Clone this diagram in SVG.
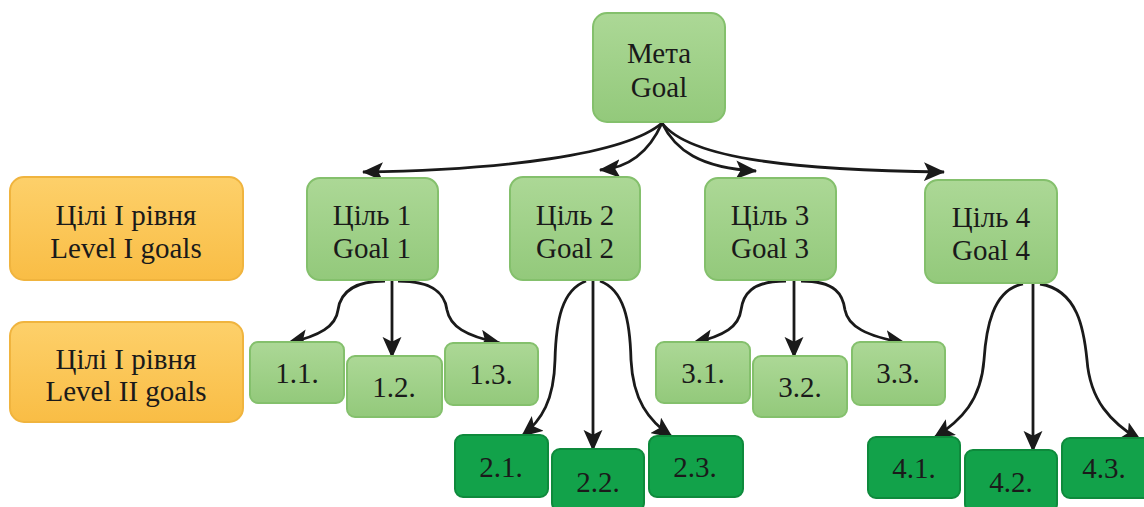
<svg xmlns="http://www.w3.org/2000/svg" width="1144" height="507" viewBox="0 0 1144 507">
<style>
.lg{fill:url(#glg);stroke:#84c06c;stroke-width:2}
.dg{fill:#12a24a;stroke:#0e8a3c;stroke-width:2}
.or{fill:url(#gor);stroke:#f0b43e;stroke-width:2}
text{font-family:'Liberation Serif','DejaVu Serif',serif;font-size:29px;fill:#1a1a1a;text-anchor:middle}
.c{fill:none;stroke:#1a1a1a;stroke-width:2.8;marker-end:url(#ah)}
</style>
<defs>
<linearGradient id="glg" x1="0" y1="0" x2="0" y2="1"><stop offset="0" stop-color="#acd896"/><stop offset="1" stop-color="#93c97b"/></linearGradient>
<linearGradient id="gor" x1="0" y1="0" x2="0" y2="1"><stop offset="0" stop-color="#fdd06a"/><stop offset="1" stop-color="#f9bd45"/></linearGradient>
<marker id="ah" markerWidth="7.6" markerHeight="6.8" refX="8.5" refY="4" orient="auto" viewBox="0 0 9 8"><path d="M0,0 L9,4 L0,8 L2,4 Z" fill="#1a1a1a"/></marker>
</defs>
<g id="connectors">
<path class="c" d="M662,123 C625,155 500,170 363,172"/>
<path class="c" d="M662,123 C650,150 630,168 600,170"/>
<path class="c" d="M662,123 C675,150 700,168 756,171"/>
<path class="c" d="M662,123 C690,160 800,170 944,172"/>
<path class="c" d="M385,281 C350,281 340,295 338,310 C336,326 320,336 288,343"/>
<path class="c" d="M392,281 L392,357"/>
<path class="c" d="M398,281 C435,281 445,295 447,310 C450,326 465,336 500,343"/>
<path class="c" d="M586,281 C562,290 556,320 555,360 C554,400 542,420 522,436"/>
<path class="c" d="M593,281 L593,450"/>
<path class="c" d="M600,281 C624,290 630,320 631,360 C633,400 648,420 672,437"/>
<path class="c" d="M786,281 C751,281 743,295 741,310 C739,326 725,336 693,343"/>
<path class="c" d="M794,281 L794,357"/>
<path class="c" d="M801,281 C836,281 843,295 845,310 C848,326 865,336 905,343"/>
<path class="c" d="M1023,284 C992,290 986,330 984,360 C981,400 962,420 934,438"/>
<path class="c" d="M1033,284 L1033,451"/>
<path class="c" d="M1040,284 C1078,290 1084,330 1087,360 C1090,400 1110,422 1141,441"/>
</g>
<g id="goal"><rect class="lg" x="593" y="13" width="132" height="109" rx="14"/><text x="659" y="63">Мета</text><text x="659" y="97">Goal</text></g>
<g id="label1"><rect class="or" x="10" y="177" width="233" height="103" rx="14"/><text x="126" y="225">Цілі I рівня</text><text x="126" y="258">Level I goals</text></g>
<g id="label2"><rect class="or" x="10" y="322" width="233" height="100" rx="14"/><text x="126" y="369">Цілі I рівня</text><text x="126" y="401">Level II goals</text></g>
<g id="g1"><rect class="lg" x="307" y="178" width="131" height="102" rx="13"/><text x="372" y="225">Ціль 1</text><text x="372" y="258">Goal 1</text></g>
<g id="g2"><rect class="lg" x="510" y="177" width="130" height="103" rx="13"/><text x="575" y="225">Ціль 2</text><text x="575" y="258">Goal 2</text></g>
<g id="g3"><rect class="lg" x="705" y="178" width="131" height="102" rx="13"/><text x="770" y="225">Ціль 3</text><text x="770" y="258">Goal 3</text></g>
<g id="g4"><rect class="lg" x="925" y="180" width="132" height="103" rx="13"/><text x="991" y="227">Ціль 4</text><text x="991" y="260">Goal 4</text></g>
<g id="n11"><rect class="lg" x="250" y="342" width="94" height="61" rx="8"/><text x="297" y="383">1.1.</text></g>
<g id="n12"><rect class="lg" x="347" y="356" width="95" height="61" rx="8"/><text x="394" y="397">1.2.</text></g>
<g id="n13"><rect class="lg" x="445" y="343" width="93" height="62" rx="8"/><text x="491" y="384">1.3.</text></g>
<g id="n21"><rect class="dg" x="455" y="435" width="93" height="62" rx="8"/><text x="501" y="477">2.1.</text></g>
<g id="n22"><rect class="dg" x="552" y="449" width="92" height="62" rx="8"/><text x="598" y="492">2.2.</text></g>
<g id="n23"><rect class="dg" x="649" y="436" width="94" height="61" rx="8"/><text x="695" y="477">2.3.</text></g>
<g id="n31"><rect class="lg" x="656" y="342" width="94" height="61" rx="8"/><text x="703" y="383">3.1.</text></g>
<g id="n32"><rect class="lg" x="753" y="356" width="94" height="61" rx="8"/><text x="800" y="397">3.2.</text></g>
<g id="n33"><rect class="lg" x="852" y="342" width="93" height="63" rx="8"/><text x="898" y="383">3.3.</text></g>
<g id="n41"><rect class="dg" x="868" y="437" width="92" height="61" rx="8"/><text x="914" y="478">4.1.</text></g>
<g id="n42"><rect class="dg" x="965" y="450" width="92" height="62" rx="8"/><text x="1011" y="492">4.2.</text></g>
<g id="n43"><rect class="dg" x="1062" y="438" width="90" height="60" rx="8"/><text x="1104" y="478">4.3.</text></g>
</svg>
